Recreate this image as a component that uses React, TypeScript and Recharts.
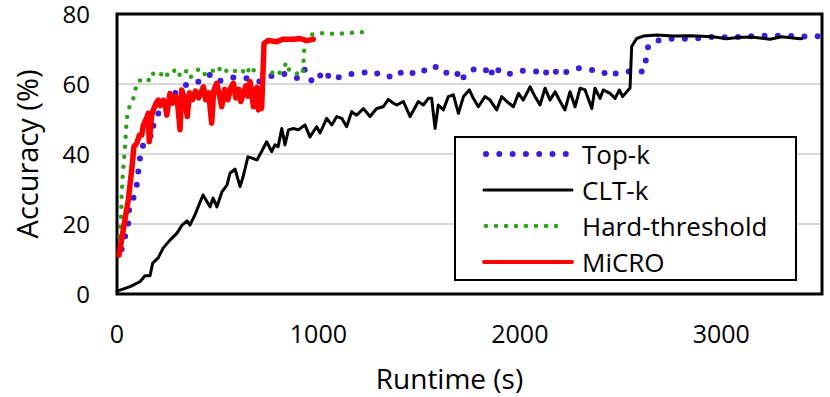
import React from 'react'
import { LineChart, Line, XAxis, YAxis, CartesianGrid, ReferenceArea, Legend } from 'recharts'

const FONT = '"Open Sans", sans-serif'

// [runtime (s), accuracy (%)]
const topK: [number, number][] = [
  [23, 12.8], [40, 16.4], [56, 20.2], [60, 24.2], [81, 27.3], [98, 31.1], [106, 35], [114, 38.8],
  [123, 42.1], [147, 43], [164, 44], [172, 48.3], [180, 48], [205, 51.6], [250, 55], [300, 58],
  [362, 60.5], [412, 60.7], [462, 62.6], [503, 60.7], [545, 61.6], [600, 62], [644, 61.6], [707, 60.7],
  [751, 62], [809, 63], [859, 62.6], [905, 61.4], [933, 64.2], [967, 60.9], [1000, 63], [1033, 60.9],
  [1058, 63.2], [1099, 61.9], [1132, 62.1], [1165, 62.9], [1198, 62.9], [1265, 63.7], [1306, 62.6],
  [1347, 61.9], [1392, 63.7], [1438, 62.3], [1468, 63.2], [1504, 62.8], [1551, 65.2], [1587, 64.8],
  [1620, 63], [1681, 63.8], [1711, 60.7], [1728, 62.9], [1773, 64.2], [1827, 64.4], [1852, 61.9],
  [1872, 65.2], [1913, 62.8], [1963, 63], [2009, 63.8], [2064, 63.7], [2092, 63.5], [2109, 64.5],
  [2142, 62.6], [2170, 64], [2200, 62.3], [2246, 64], [2295, 64.5], [2353, 64], [2410, 63.7],
  [2439, 62.1], [2464, 62.8], [2489, 63.2], [2514, 63.2], [2567, 64], [2613, 63.5], [2626, 67],
  [2638, 71.1], [2696, 72.6], [2762, 73], [2830, 72.9], [2900, 73.1], [2960, 73.5], [3030, 73.3],
  [3100, 73.5], [3170, 73.7], [3240, 73.8], [3310, 73.8], [3380, 73.7], [3440, 73.5], [3500, 73.7],
]

const cltK: [number, number][] = [
  [0, 0.8], [15, 1.1], [65, 2.1], [114, 3.5], [139, 5.2], [164, 5.2], [177, 8.8], [204, 10.3],
  [229, 13.1], [263, 15.4], [298, 17.4], [323, 19.7], [348, 20.9], [362, 19.7], [387, 22.6],
  [427, 28.3], [462, 24.9], [477, 27.4], [496, 24.9], [521, 29.2], [546, 31.1], [561, 34.5],
  [586, 35.7], [611, 30.7], [626, 33.5], [650, 39.2], [670, 38.8], [695, 38.3], [718, 40.7],
  [743, 43.5], [768, 40.7], [784, 42.6], [800, 42.1], [818, 47.3], [834, 42.6], [851, 46.9],
  [876, 47.3], [900, 46.9], [933, 48.3], [958, 44.9], [991, 47.8], [1008, 46], [1041, 50.2],
  [1066, 48.3], [1091, 50.7], [1116, 50.2], [1140, 47.8], [1165, 52.1], [1190, 51.1], [1223, 53],
  [1256, 50.7], [1289, 53], [1322, 53.5], [1347, 55.6], [1372, 54.5], [1389, 54], [1422, 55],
  [1455, 50.7], [1496, 55], [1521, 54], [1546, 55.9], [1562, 55.9], [1579, 47.3], [1595, 54],
  [1620, 52.6], [1645, 56.4], [1670, 56.9], [1695, 51.6], [1720, 56.4], [1749, 58.3], [1769, 55.9],
  [1794, 53.5], [1827, 56.4], [1852, 55.4], [1885, 52.6], [1910, 56.4], [1935, 55], [1968, 53.5],
  [1993, 57.3], [2017, 55.4], [2051, 59.2], [2075, 56.4], [2100, 54], [2125, 58.8], [2150, 55.4],
  [2175, 57.8], [2200, 55], [2224, 52.6], [2249, 57.8], [2274, 53.5], [2299, 58.8], [2324, 58.3],
  [2357, 53], [2373, 58.8], [2398, 55.9], [2414, 58.3], [2448, 57.3], [2473, 55.9], [2494, 58.3],
  [2510, 56.4], [2538, 58.3], [2547, 58.8], [2555, 70.7], [2580, 73], [2613, 73.7], [2680, 74],
  [2762, 73.7], [2850, 73.8], [2960, 73.5], [3027, 72.9], [3080, 73.3], [3150, 73.4], [3242, 72.8],
  [3300, 73.5], [3391, 72.9], [3400, 73],
]

const hardThreshold: [number, number][] = [
  [12, 16.4], [20, 22], [23, 27.8], [28, 33.5], [36, 39.2], [43, 45], [48, 49.7], [56, 52.8],
  [78, 55.2], [89, 57.8], [101, 60.7], [126, 61.3], [144, 61.8], [165, 60.8], [180, 63], [213, 63.5],
  [230, 61.6], [255, 63], [280, 64.2], [300, 62], [338, 64.2], [362, 61.6], [380, 63], [412, 64.5],
  [440, 62.5], [470, 63.5], [498, 65.1], [528, 63], [550, 64.2], [578, 63.5], [610, 64.5], [644, 62.6],
  [660, 65.1], [685, 63.5], [743, 62.6], [784, 63.5], [801, 62.6], [826, 65], [846, 66.1], [856, 63.5],
  [876, 63.2], [892, 63], [922, 62.6], [925, 65.4], [928, 68.3], [930, 71.3], [950, 73.8], [991, 74.5],
  [1041, 74.5], [1082, 74.3], [1132, 74.5], [1173, 74.7], [1220, 74.8],
]

const micro: [number, number][] = [
  [10, 11.1], [31, 18.3], [56, 26.9], [73, 35.4], [84, 42.1], [98, 43], [111, 45.4], [123, 45.4],
  [131, 48.3], [147, 50.2], [155, 51.6], [160, 43.5], [172, 51.1], [180, 52.6], [195, 54.5],
  [205, 55.4], [215, 53.8], [230, 55.4], [240, 54], [247, 51.1], [263, 57.3], [275, 54.5], [290, 56.5],
  [300, 55], [313, 46.9], [321, 58.3], [335, 56], [349, 50.7], [360, 57.5], [375, 55.5], [390, 58],
  [405, 56], [429, 59.2], [440, 55.5], [455, 57.5], [470, 48.8], [480, 58], [495, 60.2], [508, 57],
  [520, 53.5], [535, 58.5], [550, 55.5], [565, 59], [578, 60.2], [590, 56], [605, 58.5], [615, 55],
  [627, 57.3], [640, 59.5], [650, 56.5], [660, 60.7], [668, 58], [677, 53.5], [685, 58.3], [695, 59],
  [702, 52.6], [710, 58.3], [718, 53], [724, 62], [730, 71.6], [751, 72.4], [793, 72.1], [826, 72.8],
  [876, 72.8], [909, 73], [942, 72.4], [975, 72.8],
]

const xTicks = [0, 1000, 2000, 3000]
const yTicks = [0, 20, 40, 60, 80]

const SERIES = [
  { name: 'Top-k', points: topK, color: '#3b1fd8', width: 6, legendWidth: 6, dash: '0 13.3' },
  { name: 'CLT-k', points: cltK, color: '#000000', width: 3, legendWidth: 3, dash: undefined },
  { name: 'Hard-threshold', points: hardThreshold, color: '#2fa01c', width: 4.5, legendWidth: 4.5, dash: '0 10' },
  { name: 'MiCRO', points: micro, color: '#ff0000', width: 5.5, legendWidth: 4, dash: undefined },
]

const toRows = (pts: [number, number][]) => pts.map(([x, y]) => ({ x, y }))

function XTitle(props: any) {
  const vb = props.viewBox || { x: 117, y: 294, width: 705, height: 103 }
  return (
    <text x={vb.x + vb.width / 2 - 20} y={vb.y + 84} textAnchor="middle" dominantBaseline="central"
      fontFamily={FONT} fontSize={28} fill="#000">
      Runtime (s)
    </text>
  )
}

function YTitle(props: any) {
  const vb = props.viewBox || { x: 0, y: 14, width: 117, height: 280 }
  const cx = vb.x + 26
  const cy = vb.y + vb.height / 2
  return (
    <text x={cx} y={cy} transform={`rotate(-90 ${cx} ${cy})`} textAnchor="middle" dominantBaseline="central"
      fontFamily={FONT} fontSize={29} fill="#000">
      Accuracy (%)
    </text>
  )
}

function LegendBox() {
  return (
    <svg width={343} height={145} style={{ display: 'block' }}>
      <rect x={1} y={1} width={341} height={143} fill="#fff" stroke="#000" strokeWidth={2} />
      {SERIES.map((s, i) => {
        const cy = 18 + i * 36
        return (
          <g key={s.name}>
            <line x1={s.dash ? 32 : 30} x2={s.dash ? 112 : 118} y1={cy} y2={cy} stroke={s.color}
              strokeWidth={s.legendWidth} strokeDasharray={s.dash} strokeLinecap="round" />
            <text x={128} y={cy} dominantBaseline="central" fontFamily={FONT} fontSize={26} fill="#000">
              {s.name}
            </text>
          </g>
        )
      })}
    </svg>
  )
}

export default function App() {
  return (
    <div style={{ position: 'absolute', left: 0, top: 0, width: 830, height: 397, background: '#fff' }}>
      <LineChart width={830} height={397} margin={{ top: 14, right: 8, bottom: 0, left: 0 }}>
        <CartesianGrid vertical={false} stroke="#d9d9d9" strokeWidth={2} />
        <XAxis
          dataKey="x"
          type="number"
          domain={[0, 3500]}
          ticks={xTicks}
          height={103}
          axisLine={false}
          tickLine={false}
          tickMargin={25}
          tick={{ fill: '#000', fontSize: 25, fontFamily: FONT }}
          label={<XTitle />}
        />
        <YAxis
          type="number"
          domain={[0, 80]}
          ticks={yTicks}
          width={117}
          axisLine={false}
          tickLine={false}
          tickMargin={21}
          tick={{ fill: '#000', fontSize: 24, fontFamily: FONT }}
          label={<YTitle />}
        />
        {SERIES.map(s => (
          <Line
            key={s.name}
            data={toRows(s.points)}
            dataKey="y"
            name={s.name}
            type="linear"
            stroke={s.color}
            strokeWidth={s.width}
            strokeDasharray={s.dash}
            strokeLinecap="round"
            strokeLinejoin="round"
            dot={false}
            activeDot={false}
            isAnimationActive={false}
          />
        ))}
        <ReferenceArea x1={0} x2={3500} y1={0} y2={80} fill="none" stroke="#000" strokeWidth={3} ifOverflow="visible" />
        <Legend
          layout="vertical"
          align="center"
          verticalAlign="middle"
          content={() => <LegendBox />}
          wrapperStyle={{ position: 'absolute', left: 454, top: 136, width: 343, height: 145 }}
        />
      </LineChart>
    </div>
  )
}
